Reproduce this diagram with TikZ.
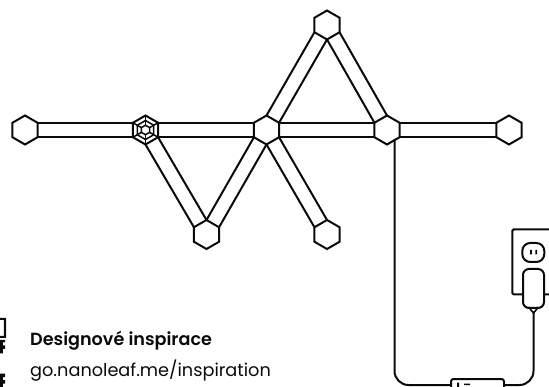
\documentclass[tikz,border=0pt]{standalone}
\usepackage{fontspec}
\setmainfont{Poppins}
\newfontfamily\titlefont{Poppins SemiBold}
\usetikzlibrary{shapes.geometric}
\definecolor{ink}{HTML}{0A0A0A}
\tikzset{
  px/.style={x=1pt,y=-1pt},
  hexa/.style={regular polygon,regular polygon sides=6,shape border rotate=30,draw=ink,line width=2pt,fill=white,minimum size=29pt,inner sep=0pt,outer sep=0pt},
  hexin/.style={regular polygon,regular polygon sides=6,shape border rotate=30,draw=ink,line width=1.5pt,minimum size=#1,inner sep=0pt,outer sep=0pt},
  bar/.style={draw=ink,line width=2pt},
  wire/.style={draw=ink,line width=2pt,rounded corners=14pt},
  label/.style={anchor=base west,inner sep=0pt,text=ink}
}
\begin{document}
\begin{tikzpicture}[px]
\useasboundingbox (0,0) rectangle (549,387);
\node[hexa] (l) at (25,130) {};
\node[hexa] (h) at (145.5,130) {};
\node[hexa] (c) at (266.5,130) {};
\node[hexa] (r) at (387,130) {};
\node[hexa] (fr) at (509,130) {};
\node[hexa] (t) at (327,25) {};
\node[hexa] (b1) at (206.5,234.5) {};
\node[hexa] (b2) at (327,234.5) {};
\foreach \a/\b in {l/h,h/c,c/r,r/fr}{
  \draw[bar] (\a.corner 6) -- (\b.corner 2);
  \draw[bar] (\a.corner 5) -- (\b.corner 3);
}
\draw[bar] (c.corner 1) -- (t.corner 3);
\draw[bar] (c.corner 6) -- (t.corner 4);
\draw[bar] (r.corner 1) -- (t.corner 5);
\draw[bar] (r.corner 2) -- (t.corner 4);
\draw[bar] (h.corner 4) -- (b1.corner 2);
\draw[bar] (h.corner 5) -- (b1.corner 1);
\draw[bar] (c.corner 3) -- (b1.corner 1);
\draw[bar] (c.corner 4) -- (b1.corner 6);
\draw[bar] (c.corner 4) -- (b2.corner 2);
\draw[bar] (c.corner 5) -- (b2.corner 1);
% hub inner web
\node[hexin=9.5pt] (hj) at (h) {};
\foreach \k in {1,...,6}{\draw[draw=ink,line width=1.5pt] (h.corner \k) -- (hj.corner \k);}
\node[hexin=19pt] (hi) at (h) {};
% cable
\coordinate (cs) at (394.5,139);
\coordinate (bl) at (394.5,385);
\node[draw=ink,line width=2pt,fill=white,rounded corners=2.5pt,minimum width=53pt,minimum height=14pt,inner sep=0pt,anchor=north west] (sw) at (450,378) {};
\draw[wire] (cs) -- (bl) -- (sw.west |- bl);
% wall plate and plug
\draw[draw=ink,line width=2pt,rounded corners=1.5pt] (549,229.3) -- (512.3,229.3) -- (512.3,294.5) -- (549,294.5);
\node[draw=ink,line width=2pt,fill=white,rounded corners=8pt,minimum width=22pt,minimum height=19pt,inner sep=0pt] (so) at (533.3,252.5) {};
\fill[ink] (530,250) rectangle (531.8,254.5) (535.3,250) rectangle (537.1,254.5);
\node[draw=ink,line width=2pt,fill=white,rounded corners=6pt,minimum width=21pt,minimum height=39pt,inner sep=0pt,anchor=north] (pl) at (533.5,268) {};
\coordinate (pt) at (533.5,313);
\draw[draw=ink,line width=1.6pt] (528.5,307) -- (pt) -- (538.5,307);
\draw[wire] (pt) -- (pt |- bl) -- (sw.east |- bl);
\fill[ink] (457,382.5) rectangle (459,387) (464,383.5) rectangle (470,385.2);
% QR fragment
\fill[ink] (0,318) rectangle (6,320) (3.8,318) rectangle (6,338) (0,336) rectangle (6,338)
 (0,340) rectangle (5,342.5) (0,342.5) rectangle (2.8,345.5) (0,345.5) rectangle (5,349) (0,349) rectangle (2.8,353.5)
 (0,373.5) rectangle (5,377) (0,377) rectangle (2.8,380) (0,380) rectangle (5,383.5) (0,383.5) rectangle (2.8,387);
\node[label,font=\fontsize{17.6}{20}\selectfont\titlefont] (ti) at (30,346) {Designové inspirace};
\node[label,font=\fontsize{17.7}{20}\selectfont] (ur) at (30,376) {go.nanoleaf.me/inspiration};
\end{tikzpicture}
\end{document}
